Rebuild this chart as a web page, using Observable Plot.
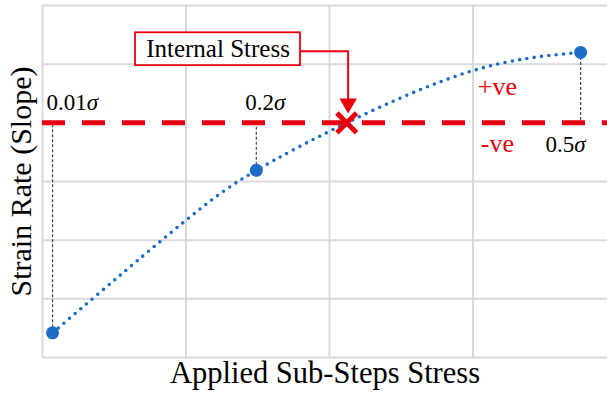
<!DOCTYPE html>
<html>
<head>
<meta charset="utf-8">
<script src="https://cdn.jsdelivr.net/npm/d3@7"></script>
<script src="https://cdn.jsdelivr.net/npm/@observablehq/plot@0.6"></script>
<style>
  html, body { margin: 0; padding: 0; background: #fff; }
  #chart svg { display: block; }
</style>
</head>
<body>
<div id="chart"></div>
<script>
// Curve samples (x in grid units, y in grid units; 0 = sign change)
const curveX = [0.07, 1.0, 1.49, 2.12, 3.0, 3.75];
const curveY = [-3.58, -1.66, -0.81, 0.0, 0.89, 1.20];

// Measured sub-step points
const pointLabels = ["0.01σ", "0.2σ", "0.5σ"];
const pointX = [0.07, 1.49, 3.75];
const pointY = [-3.58, -0.81, 1.20];

// Internal stress crossing
const crossX = [2.12];
const crossY = [0];

const xTitle = "Applied Sub-Steps Stress";
const yTitle = "Strain Rate (Slope)";
const boxLabel = "Internal Stress";
const signLabels = ["+ve", "-ve"];

const gridXTicks = [0, 1, 2, 3];
const gridYTicks = [-4, -3, -2, -1, 1, 2];

const curve = curveX.map((x, i) => ({x, y: curveY[i]}));
const pts = pointX.map((x, i) => ({x, y: pointY[i], label: pointLabels[i]}));
const cross = crossX.map((x, i) => ({x, y: crossY[i]}));

const RED = "#e8000e";
const BLUE = "#1c6cc8";
const GRID = "#d9d9d9";
const FONT = "Liberation Serif, Times New Roman, serif";

const chart = Plot.plot({
  width: 607,
  height: 398,
  marginLeft: 42,
  marginRight: 0,
  marginTop: 5,
  marginBottom: 41,
  style: {fontFamily: FONT, background: "#fff"},
  x: {domain: [0, 565 / 143.5], axis: null},
  y: {domain: [-4, 2], axis: null},
  marks: [
    Plot.ruleX(gridXTicks, {stroke: GRID, strokeWidth: 2}),
    Plot.ruleY(gridYTicks, {stroke: GRID, strokeWidth: 2}),
    // drop lines from points to zero line
    Plot.ruleX(pts, {x: "x", y1: "y", y2: 0, stroke: "#444", strokeWidth: 1.2, strokeDasharray: "3 2"}),
    // zero (sign) line
    Plot.ruleY([0], {stroke: RED, strokeWidth: 5, strokeDasharray: "23 17"}),
    // dotted fitted curve
    Plot.line(curve, {x: "x", y: "y", curve: "natural", stroke: BLUE, strokeWidth: 3.6,
      strokeDasharray: "0 7.4", strokeLinecap: "round"}),
    Plot.dot(pts, {x: "x", y: "y", r: 6.5, fill: BLUE, stroke: "none"}),
    // point labels
    Plot.text(pts.slice(0, 1), {x: "x", y: 0, text: "label", textAnchor: "start", dx: -6, dy: -20, fontSize: 23, fill: "#000"}),
    Plot.text(pts.slice(1, 2), {x: "x", y: 0, text: "label", dx: 9, dy: -20, fontSize: 23, fill: "#000"}),
    Plot.text(pts.slice(2, 3), {x: "x", y: 0, text: "label", dx: -15, dy: 22, fontSize: 23, fill: "#000"}),
    // sign labels
    Plot.text([signLabels[0]], {x: 3.17, y: 0, text: d => d, dy: -36, fontSize: 26, fill: RED}),
    Plot.text([signLabels[1]], {x: 3.17, y: 0, text: d => d, dy: 21, fontSize: 26, fill: RED}),
    // internal stress cross
    Plot.dot(cross, {x: "x", y: "y", symbol: "times", r: 9, stroke: RED, strokeWidth: 5, strokeLinecap: "butt"}),
    // callout box + arrow
    Plot.rect(cross, {x1: d => d.x - 1.472, x2: d => d.x - 0.322, y1: 1.535, y2: 0.975, fill: "#fff", stroke: RED, strokeWidth: 1.8}),
    Plot.text(cross, {x: d => d.x - 0.897, y: 1.255, text: () => boxLabel, fontSize: 25, fill: "#000"}),
    Plot.line(cross.flatMap(d => [{x: d.x - 0.322, y: 1.22}, {x: d.x + 0.01, y: 1.22}, {x: d.x + 0.01, y: 0.38}]),
      {x: "x", y: "y", stroke: RED, strokeWidth: 2}),
    Plot.dot(cross, {x: d => d.x + 0.01, y: 0.33, symbol: "triangle", r: 6.5, rotate: 180, fill: RED, stroke: "none"}),
    // axis titles
    Plot.text([xTitle], {frameAnchor: "bottom", text: d => d, dy: 25, fontSize: 30.5, fill: "#000"}),
    Plot.text([yTitle], {frameAnchor: "left", textAnchor: "middle", text: d => d, rotate: -90, dx: -21, fontSize: 30, fill: "#000"})
  ]
});

// italicize sigma
chart.querySelectorAll("text").forEach(t => {
  const s = t.textContent;
  if (s.includes("σ")) {
    const target = t.querySelector("tspan") || t;
    const parts = s.split("σ");
    target.textContent = parts[0];
    const ts = document.createElementNS("http://www.w3.org/2000/svg", "tspan");
    ts.setAttribute("font-style", "italic");
    ts.textContent = "σ";
    target.appendChild(ts);
  }
});

document.getElementById("chart").appendChild(chart);
</script>
</body>
</html>
